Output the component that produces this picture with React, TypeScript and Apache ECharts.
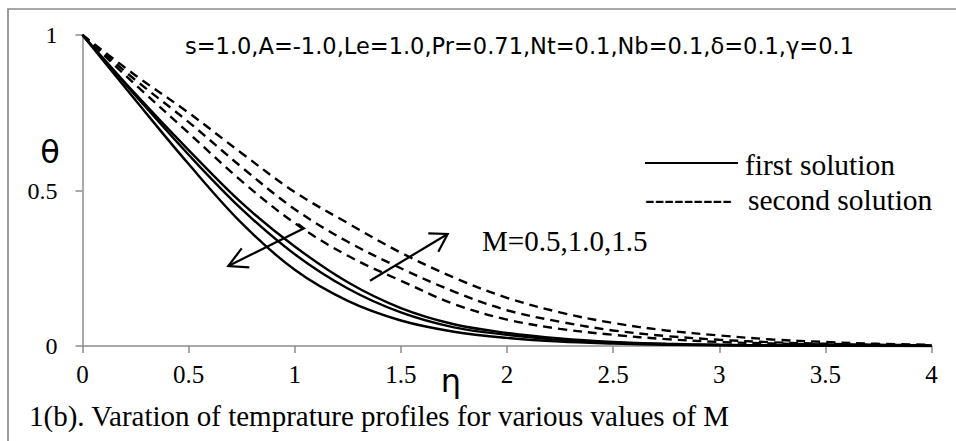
import React, { useEffect, useRef } from "react";
import * as echarts from "echarts";

// η grid
const eta = [0, 0.25, 0.5, 0.75, 1, 1.25, 1.5, 1.75, 2, 2.25, 2.5, 2.75, 3, 3.25, 3.5, 3.75, 4];

// first solution (solid) — θ decreases as M increases
const firstM05 = [1, 0.81, 0.63, 0.46, 0.32, 0.205, 0.122, 0.07, 0.042, 0.024, 0.013, 0.007, 0.004, 0.002, 0.001, 0.0005, 0];
const firstM10 = [1, 0.805, 0.615, 0.44, 0.295, 0.185, 0.108, 0.06, 0.036, 0.02, 0.011, 0.006, 0.003, 0.002, 0.001, 0.0005, 0];
const firstM15 = [1, 0.79, 0.585, 0.395, 0.245, 0.145, 0.082, 0.046, 0.026, 0.014, 0.008, 0.004, 0.002, 0.001, 0.0005, 0.0002, 0];

// second solution (dashed) — θ increases as M increases
const secondM05 = [1, 0.84, 0.685, 0.53, 0.395, 0.29, 0.21, 0.135, 0.085, 0.055, 0.036, 0.022, 0.013, 0.008, 0.005, 0.003, 0.001];
const secondM10 = [1, 0.855, 0.72, 0.575, 0.44, 0.335, 0.25, 0.175, 0.115, 0.078, 0.05, 0.032, 0.02, 0.012, 0.007, 0.004, 0.002];
const secondM15 = [1, 0.87, 0.75, 0.62, 0.495, 0.395, 0.3, 0.22, 0.155, 0.108, 0.074, 0.05, 0.034, 0.021, 0.013, 0.007, 0.004];

const firstSeries = [firstM05, firstM10, firstM15];
const secondSeries = [secondM05, secondM10, secondM15];

const paramText = "s=1.0,A=-1.0,Le=1.0,Pr=0.71,Nt=0.1,Nb=0.1,δ=0.1,γ=0.1";
const captionText = "1(b). Varation of temprature profiles for various values of M";
const mText = "M=0.5,1.0,1.5";
const legendFirst = "first solution";
const legendSecond = "second solution";

const SERIF = '"Liberation Serif", "Times New Roman", serif';
const SANS = '"DejaVu Sans", "Liberation Sans", sans-serif';
const GRAY = "#8c8c8c";

function txt(text: string, x: number, y: number, font: string, align = "left") {
  return {
    type: "text",
    silent: true,
    style: {
      text,
      x,
      y,
      font,
      fill: "#000",
      align,
      textAlign: align,
      verticalAlign: "middle",
      textVerticalAlign: "middle",
    },
  };
}

function poly(points: number[][]) {
  return {
    type: "polyline",
    silent: true,
    shape: { points },
    style: { stroke: "#000", lineWidth: 2.2, fill: "none" },
  };
}

export default function App() {
  const ref = useRef<HTMLDivElement>(null);
  useEffect(() => {
    if (!ref.current) return;
    const chart = echarts.init(ref.current, undefined, { renderer: "svg" });
    const mk = (arr: number[], dashed: boolean, name: string) => ({
      type: "line",
      name,
      data: eta.map((x, i) => [x, arr[i]]),
      showSymbol: false,
      smooth: 0.35,
      silent: true,
      lineStyle: { color: "#000", width: 2.4, type: dashed ? [9, 6] : "solid" },
    });
    chart.setOption({
      animation: false,
      backgroundColor: "#fff",
      grid: { left: 82.5, right: 24.5, top: 35, bottom: 95, containLabel: false },
      xAxis: {
        type: "value",
        min: 0,
        max: 4,
        interval: 0.5,
        axisLine: { show: true, lineStyle: { color: GRAY, width: 1.5 } },
        axisTick: { show: true, length: 7, lineStyle: { color: GRAY, width: 1.5 } },
        splitLine: { show: false },
        axisLabel: { color: "#000", fontFamily: SERIF, fontSize: 25, margin: 16 },
      },
      yAxis: {
        type: "value",
        min: 0,
        max: 1,
        interval: 0.5,
        axisLine: { show: true, lineStyle: { color: GRAY, width: 1.5 } },
        axisTick: { show: true, length: 7, lineStyle: { color: GRAY, width: 1.5 } },
        splitLine: { show: false },
        axisLabel: { color: "#000", fontFamily: SERIF, fontSize: 24, margin: 25 },
      },
      series: [
        ...firstSeries.map((a, i) => mk(a, false, "first" + i)),
        ...secondSeries.map((a, i) => mk(a, true, "second" + i)),
      ],
      graphic: [
        {
          type: "rect",
          silent: true,
          shape: { x: 8, y: 9, width: 1200, height: 800 },
          style: { fill: "none", stroke: GRAY, lineWidth: 1.7 },
        },
        txt(paramText, 185, 46, "22.5px " + SANS),
        txt("θ", 50, 152, "32px " + SANS, "center"),
        txt("η", 451, 381, "32px " + SANS, "center"),
        txt(captionText, 29, 416, "29px " + SERIF),
        {
          type: "line",
          silent: true,
          shape: { x1: 645, y1: 163, x2: 738, y2: 163 },
          style: { stroke: "#000", lineWidth: 2 },
        },
        txt(legendFirst, 745, 165, "29.5px " + SERIF),
        txt("---------", 645, 199, "29px " + SERIF),
        txt(legendSecond, 748, 200, "29.5px " + SERIF),
        txt(mText, 482, 241, "29px " + SERIF),
        poly([[298, 224], [304, 228.3], [228.3, 266]]),
        poly([[241.7, 248.3], [228.3, 266], [249.3, 267.3]]),
        poly([[370, 280.7], [447.7, 234]]),
        poly([[428.3, 233.3], [447.7, 234], [438.3, 251.7]]),
      ],
    });
    return () => chart.dispose();
  }, []);
  return (
    <div
      ref={ref}
      style={{ position: "fixed", left: 0, top: 0, width: 956, height: 441 }}
    />
  );
}
